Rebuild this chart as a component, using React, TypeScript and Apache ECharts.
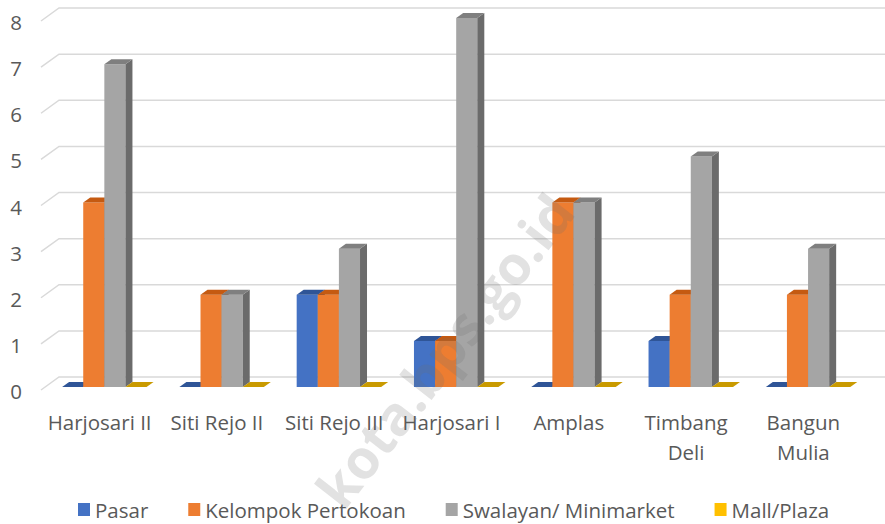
import React, { useEffect, useRef } from "react";
import * as echarts from "echarts";

const categories = ["Harjosari II", "Siti Rejo II", "Siti Rejo III", "Harjosari I", "Amplas", "Timbang Deli", "Bangun Mulia"];
const categoryLabels = ["Harjosari II", "Siti Rejo II", "Siti Rejo III", "Harjosari I", "Amplas", "Timbang\nDeli", "Bangun\nMulia"];
const seriesNames = ["Pasar", "Kelompok Pertokoan", "Swalayan/ Minimarket", "Mall/Plaza"];
const pasar = [0, 0, 2, 1, 0, 1, 0];
const kelompokPertokoan = [4, 2, 2, 1, 4, 2, 2];
const swalayan = [7, 2, 3, 8, 4, 5, 3];
const mallPlaza = [0, 0, 0, 0, 0, 0, 0];
const yTicks = [0, 1, 2, 3, 4, 5, 6, 7, 8];

const frontColors = ["#4472C4", "#ED7D31", "#A5A5A5", "#FFC000"];
const topColors = ["#2F5597", "#C55A11", "#7F7F7F", "#C99A00"];
const sideColors = ["#264478", "#9E480E", "#6B6B6B", "#997300"];

export default function App() {
  const ref = useRef<HTMLDivElement>(null);
  useEffect(() => {
    if (!ref.current) return;
    document.body.style.margin = "0";
    const chart = echarts.init(ref.current, null, { renderer: "svg" });
    const allValues = [pasar, kelompokPertokoan, swalayan, mallPlaza];

    const barSeries = allValues.map((vals, s) => ({
      type: "custom",
      name: seriesNames[s],
      itemStyle: { color: frontColors[s] },
      z: 3 + s,
      clip: false,
      data: vals.map((v, i) => [i, v]),
      renderItem: (params: any, api: any) => {
        const ci = api.value(0);
        const v = api.value(1);
        const base = api.coord([ci, 0]);
        const top = api.coord([ci, v]);
        const band = api.size([1, 0])[0];
        const bw = band * 0.18;
        const x0 = base[0] - 0.32 * band + s * bw;
        const dx = 7;
        const dy = -5;
        const by = base[1];
        const ty = top[1];
        const children: any[] = [];
        if (by - ty > 0) {
          children.push({
            type: "rect",
            shape: { x: x0, y: ty, width: bw, height: by - ty },
            style: { fill: frontColors[s] },
          });
        }
        children.push({
          type: "polygon",
          shape: { points: [[x0 + bw, ty], [x0 + bw + dx, ty + dy], [x0 + bw + dx, by + dy], [x0 + bw, by]] },
          style: { fill: sideColors[s] },
        });
        children.push({
          type: "polygon",
          shape: { points: [[x0, ty], [x0 + bw, ty], [x0 + bw + dx, ty + dy], [x0 + dx, ty + dy]] },
          style: { fill: topColors[s] },
        });
        return { type: "group", children };
      },
    }));

    const gridSeries = {
      type: "custom",
      name: "grid",
      silent: true,
      z: 1,
      clip: false,
      data: yTicks.map((t) => [0, t]),
      renderItem: (params: any, api: any) => {
        const cs = params.coordSys;
        const y = api.coord([0, api.value(1)])[1];
        const left = cs.x;
        const right = cs.x + cs.width;
        return {
          type: "polyline",
          shape: { points: [[left, y + 3], [left + 18, y - 10], [right + 30, y - 10]] },
          style: { stroke: "#D9D9D9", lineWidth: 1.5, fill: null },
        };
      },
    };

    const font = "Open Sans";
    chart.setOption({
      animation: false,
      backgroundColor: "#ffffff",
      textStyle: { fontFamily: font },
      grid: { left: 41, right: 23, top: 18, bottom: 137 },
      xAxis: {
        type: "category",
        data: categories,
        axisLine: { show: false },
        axisTick: { show: false },
        axisLabel: {
          interval: 0,
          margin: 20,
          color: "#595959",
          fontSize: 20.5,
          lineHeight: 30,
          fontFamily: font,
          formatter: (_v: string, i: number) => categoryLabels[i],
        },
      },
      yAxis: {
        type: "value",
        min: 0,
        max: 8,
        interval: 1,
        splitLine: { show: false },
        axisLine: { show: false },
        axisTick: { show: false },
        axisLabel: { color: "#595959", fontSize: 20.5, margin: 19, fontFamily: font, verticalAlign: "top", lineHeight: 8 },
      },
      legend: {
        data: seriesNames,
        top: 494,
        left: 73,
        icon: "rect",
        itemWidth: 12,
        itemHeight: 13,
        itemGap: 40,
        textStyle: { color: "#595959", fontSize: 20.5, fontFamily: font },
      },
      graphic: [
        {
          type: "text",
          x: 444,
          y: 350,
          rotation: (52 * Math.PI) / 180,
          z: 100,
          silent: true,
          style: {
            text: "kota.bps.go.id",
            font: "bold 54px 'Open Sans'",
            fill: "rgba(110,110,110,0.2)",
            align: "center",
            verticalAlign: "middle",
          },
        },
      ],
      series: [gridSeries, ...barSeries],
    });
    return () => chart.dispose();
  }, []);
  return <div ref={ref} style={{ width: 885, height: 524 }} />;
}
